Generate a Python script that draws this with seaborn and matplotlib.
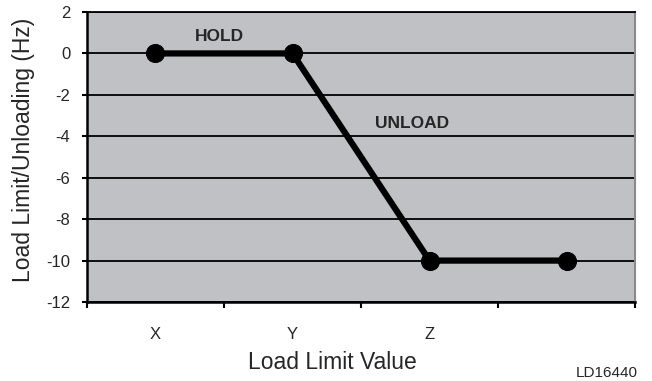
import matplotlib
matplotlib.use("Agg")
import matplotlib.pyplot as plt
import seaborn as sns
import pandas as pd
from matplotlib.ticker import FixedLocator

categories = ["X", "Y", "Z", ""]
values = [0, 0, -10, -10]
y_ticks = [2, 0, -2, -4, -6, -8, -10, -12]

sns.set_style("white")
plt.rcParams['font.family'] = ['Liberation Sans', 'DejaVu Sans']
plt.rcParams['axes.unicode_minus'] = False

df = pd.DataFrame({"pos": range(len(categories)), "val": values})

fig = plt.figure(figsize=(6.52, 3.81), dpi=100)
ax = fig.add_axes([0.1334, 0.2073, 0.8406, 0.7612])
ax.set_facecolor("#c0c1c5")

sns.lineplot(data=df, x="pos", y="val", ax=ax, color="black", linewidth=4.5,
             marker="o", markersize=13, markeredgecolor="black", zorder=5)

ax.set_xlim(-0.5, len(categories) - 0.5)
ax.set_ylim(-12, 2)
ax.set_yticks(y_ticks)
ax.yaxis.grid(True, color="black", linewidth=1.3)
ax.set_axisbelow(True)

# category labels centred, tick marks between categories
ax.set_xticks(range(len(categories)))
ax.set_xticklabels(categories)
ax.xaxis.set_minor_locator(FixedLocator([-0.5, 0.5, 1.5, 2.5, 3.5]))
ax.tick_params(axis="x", which="major", length=0, pad=18, labelsize=12)
ax.tick_params(axis="x", which="minor", length=4.5, width=1.5, direction="out", color="black", bottom=True)
ax.tick_params(axis="y", length=3.6, width=1.5, direction="out", color="black", left=True,
               labelsize=12, pad=8.5)

for side in ["left", "bottom"]:
    ax.spines[side].set_color("black")
    ax.spines[side].set_linewidth(1.8)
ax.spines["top"].set_color("black")
ax.spines["top"].set_linewidth(1.3)
ax.spines["right"].set_color("#8a8a8e")
ax.spines["right"].set_linewidth(1.5)

ax.set_xlabel("Load Limit Value", fontsize=16.5, va="center")
ax.xaxis.set_label_coords(0.447, -0.21)
ax.set_ylabel("Load Limit/Unloading (Hz)", fontsize=16.5, va="center")
ax.yaxis.set_label_coords(-0.115, 0.526)

ax.text(0.47, 0.8, "HOLD", fontsize=12.5, fontweight="bold", ha="center", va="center")
ax.text(1.87, -3.4, "UNLOAD", fontsize=12.5, fontweight="bold", ha="center", va="center")

fig.text(0.978, 0.021, "LD16440", fontsize=11, ha="right", va="center")

fig.savefig("out.png", dpi=100, facecolor="white")
